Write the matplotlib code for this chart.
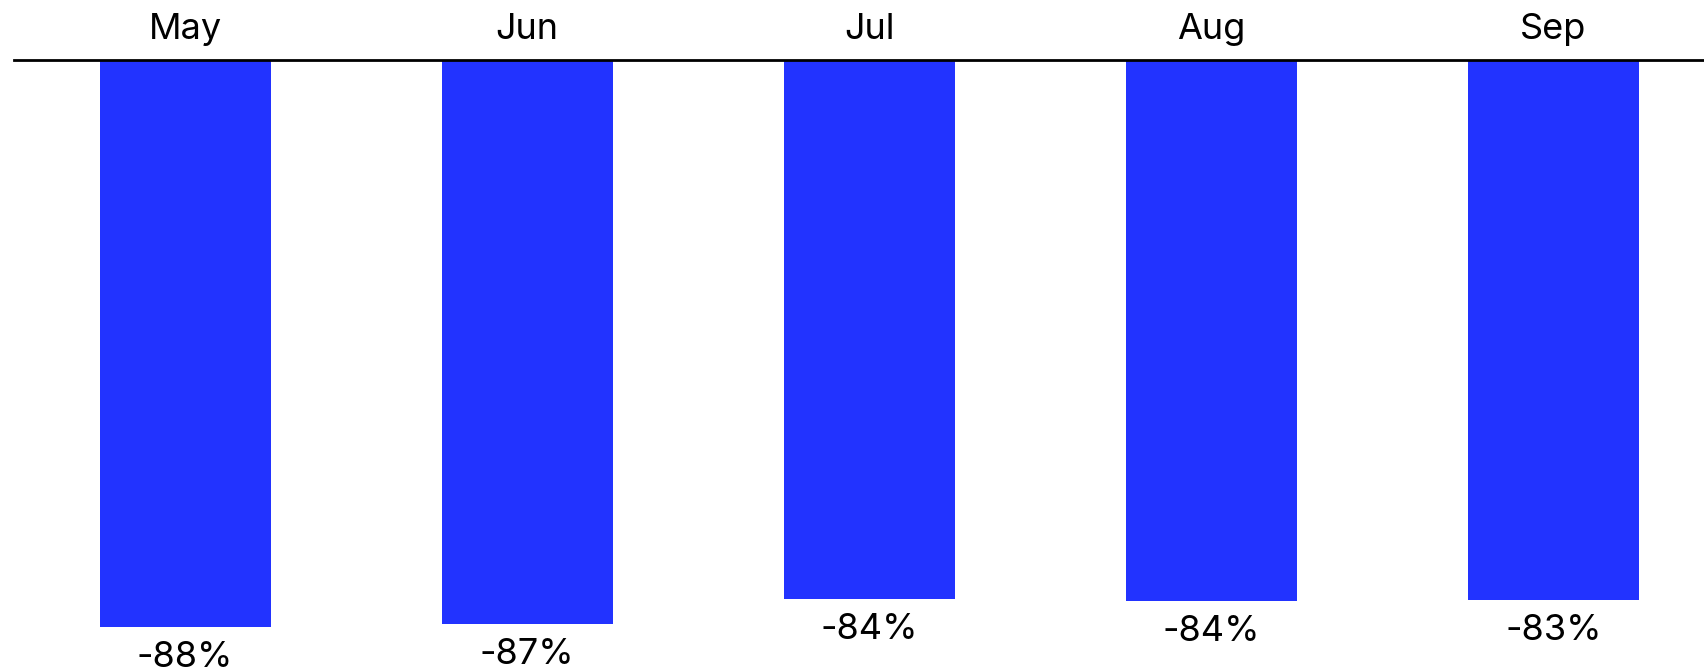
import matplotlib
matplotlib.use("Agg")
import matplotlib.pyplot as plt

months = ["May", "Jun", "Jul", "Aug", "Sep"]
values = [-88.0, -87.6, -83.7, -84.0, -83.9]
labels = ["-88%", "-87%", "-84%", "-84%", "-83%"]

plt.rcParams['font.family'] = ['Inter', 'DejaVu Sans']

W, H = 1704, 667
fig = plt.figure(figsize=(W / 100, H / 100), dpi=100)
top = 60
ax = fig.add_axes([14 / W, 0, (W - 14) / W, (H - top) / H])
x = list(range(len(months)))
ax.bar(x, values, width=0.5, color="#2233FF", zorder=1)
ax.set_xlim(-0.5, 4.44)
ax.set_ylim(-94.25, 0)
for s in ["left", "right", "bottom"]:
    ax.spines[s].set_visible(False)
ax.spines["top"].set_linewidth(2)
ax.spines["top"].set_color("black")
ax.spines["top"].set_zorder(3)
ax.xaxis.tick_top()
ax.set_xticks(x)
ax.set_xticklabels(months, fontsize=26)
ax.tick_params(axis="x", length=0, pad=10)
ax.set_yticks([])
for xi, v, lab in zip(x, values, labels):
    ax.annotate(lab, (xi, v), xytext=(0, -14), textcoords="offset pixels",
                ha="center", va="top", fontsize=26, clip_on=False)
fig.savefig("out.png", dpi=100)
